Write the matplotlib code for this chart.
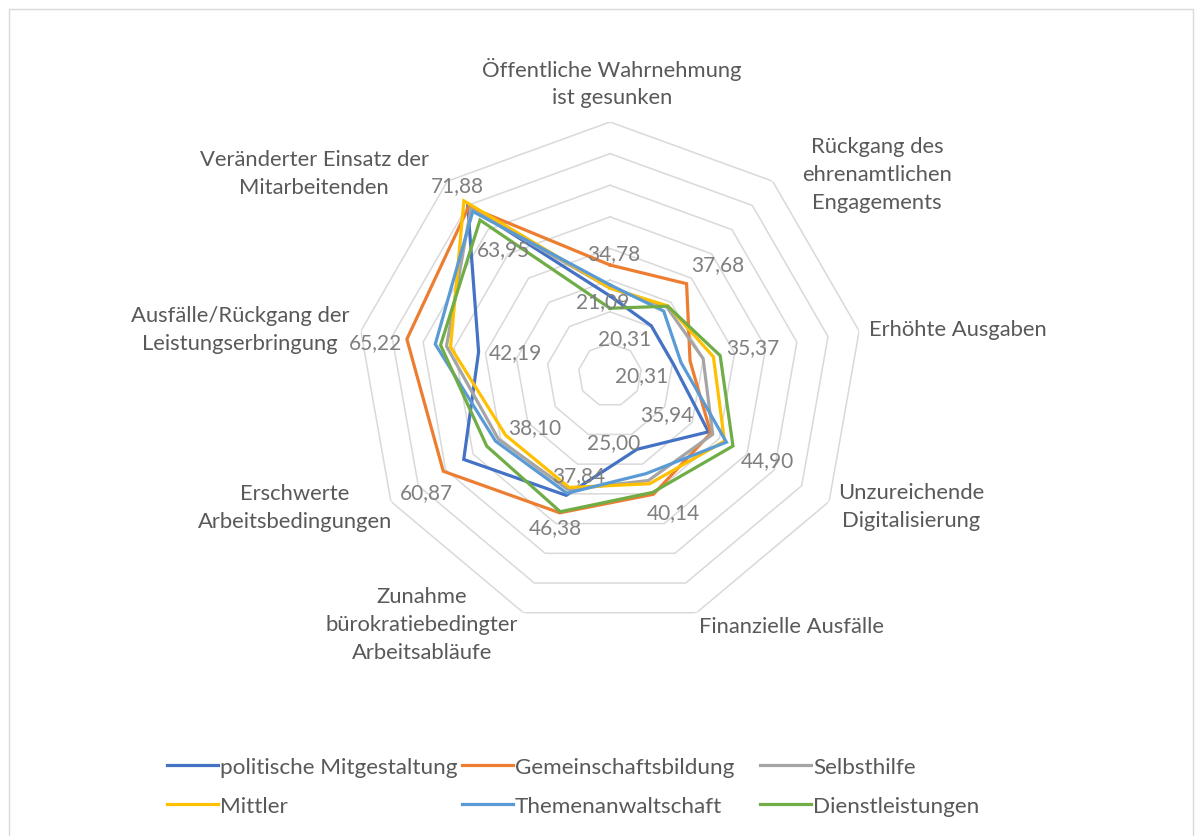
import numpy as np
import matplotlib
matplotlib.use("Agg")
import matplotlib.pyplot as plt
from matplotlib.lines import Line2D
from matplotlib.patches import Rectangle

plt.rcParams["font.family"] = ["Lato", "DejaVu Sans"]

W, H = 1203, 837

categories = [
    "Öffentliche Wahrnehmung\nist gesunken",
    "Rückgang des\nehrenamtlichen\nEngagements",
    "Erhöhte Ausgaben",
    "Unzureichende\nDigitalisierung",
    "Finanzielle Ausfälle",
    "Zunahme\nbürokratiebedingter\nArbeitsabläufe",
    "Erschwerte\nArbeitsbedingungen",
    "Ausfälle/Rückgang der\nLeistungserbringung",
    "Veränderter Einsatz der\nMitarbeitenden",
]

series_names = ["politische Mitgestaltung", "Gemeinschaftsbildung", "Selbsthilfe",
                "Mittler", "Themenanwaltschaft", "Dienstleistungen"]

politische = [25.00, 20.31, 20.31, 35.94, 25.00, 40.50, 53.40, 42.19, 70.00]
gemeinschaft = [34.78, 37.68, 25.70, 36.80, 40.14, 46.38, 60.87, 65.22, 69.50]
selbsthilfe = [27.50, 28.00, 29.90, 37.50, 35.50, 38.60, 40.70, 52.50, 68.50]
mittler = [27.50, 28.50, 33.20, 41.80, 36.60, 37.84, 38.10, 51.20, 71.88]
themen = [28.50, 26.40, 22.80, 42.50, 33.20, 39.80, 41.80, 56.10, 67.50]
dienst = [21.09, 28.40, 35.37, 44.90, 39.50, 46.00, 45.00, 54.40, 63.95]

series = [politische, gemeinschaft, selbsthilfe, mittler, themen, dienst]
colors = ["#4472C4", "#ED7D31", "#A5A5A5", "#FFC000", "#5B9BD5", "#70AD47"]

grid_levels = [10, 20, 30, 40, 50, 60, 70, 80]

# label placement (pixel centres in the 1203x837 canvas)
cat_pos = [(612, 83), (877, 175), (958, 330), (911, 507), (791, 627),
           (422, 625), (295, 508), (240, 330), (314, 174)]
max_pos = [(614, 254), (718, 265), (753, 348), (767, 461), (673, 513),
           (555, 528), (426, 493), (376, 343), (457, 186)]
min_pos = [(603, 302), (625, 339), (642, 376), (667, 415), (614, 443),
           (579, 476), (535, 428), (515, 353), (504, 250)]


def fx(px):
    return px / W


def fy(py):
    return 1 - py / H


def fmt(v):
    return f"{v:.2f}".replace(".", ",")


fig = plt.figure(figsize=(W / 100, H / 100), dpi=100)
fig.patches.append(Rectangle((fx(9), -0.05), fx(1184), fy(10) + 0.05,
                             transform=fig.transFigure, fill=False,
                             edgecolor="#D9D9D9", linewidth=1))

cx, cy, R = 610, 376, 253
ax = fig.add_axes([fx(cx - R), fy(cy + R), 2 * R / W, 2 * R / H], projection="polar")
ax.set_theta_zero_location("N")
ax.set_theta_direction(-1)
ax.set_ylim(0, 80)
ax.set_xticks([])
ax.set_yticks([])
ax.grid(False)
ax.spines["polar"].set_visible(False)
ax.patch.set_alpha(0)

n = len(categories)
theta = np.linspace(0, 2 * np.pi, n, endpoint=False)
theta_c = np.append(theta, theta[0])

for lvl in grid_levels:
    ax.plot(theta_c, [lvl] * (n + 1), color="#D9D9D9", lw=1.1, zorder=1)

handles = []
for vals, col, name in zip(series, colors, series_names):
    ax.plot(theta_c, vals + vals[:1], color=col, lw=2.3, zorder=3,
            solid_joinstyle="miter")
    handles.append(Line2D([], [], color=col, lw=2.3, label=name))

for line in ax.lines:
    line.get_path()._interpolation_steps = 1

data = np.array(series)
for i in range(n):
    fig.text(fx(max_pos[i][0]), fy(max_pos[i][1]), fmt(data[:, i].max()),
             ha="center", va="center", fontsize=15, color="#7F7F7F")
    fig.text(fx(min_pos[i][0]), fy(min_pos[i][1]), fmt(data[:, i].min()),
             ha="center", va="center", fontsize=15, color="#7F7F7F")
    fig.text(fx(cat_pos[i][0]), fy(cat_pos[i][1]), categories[i],
             ha="center", va="center", fontsize=15.8, color="#595959",
             linespacing=1.48, multialignment="center")

# legend: three columns placed like the original
col_x = [167, 462, 760]
for c in range(3):
    hs = [handles[c], handles[c + 3]]
    fig.legend(handles=hs, loc="upper left",
               bbox_to_anchor=(fx(col_x[c]), fy(758)), frameon=False,
               fontsize=16.2, labelcolor="#595959", handlelength=2.25,
               handletextpad=0.1, labelspacing=0.85, borderpad=0,
               borderaxespad=0)

fig.savefig("out.png", dpi=100)
